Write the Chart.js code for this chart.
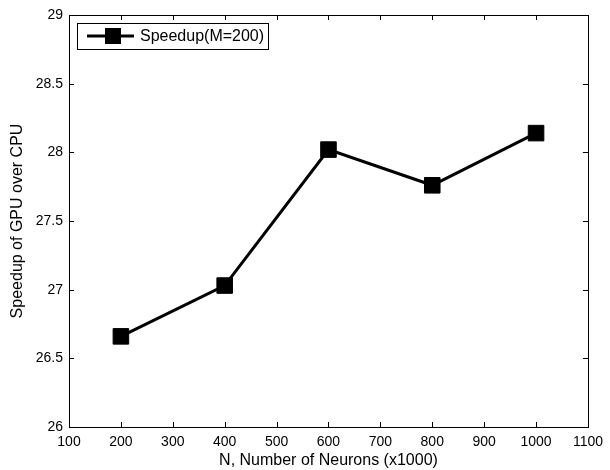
<!DOCTYPE html>
<html>
<head>
<meta charset="utf-8">
<script src="https://cdn.jsdelivr.net/npm/chart.js@4"></script>
<style>
  html, body { margin: 0; padding: 0; background: #fff; }
  #wrap { width: 610px; height: 470px; }
</style>
</head>
<body>
<div id="wrap"><canvas id="chart" width="610" height="470"></canvas></div>
<script>
// values
const neurons = [200, 400, 600, 800, 1000];
const speedup = [26.66, 27.03, 28.02, 27.76, 28.14];
const seriesLabel = 'Speedup(M=200)';
const xTicks = [100, 200, 300, 400, 500, 600, 700, 800, 900, 1000, 1100];
const yTicks = [26, 26.5, 27, 27.5, 28, 28.5, 29];

const FONT = 'Liberation Sans, Arial, Helvetica, sans-serif';

/**
 * MATLAB style box: inward ticks on all four sides, plus top/right border.
 */
const boxTicks = {
  id: 'boxTicks',
  afterDraw(chart) {
    const { ctx, chartArea: a, scales } = chart;
    const len = 5;
    ctx.save();
    ctx.strokeStyle = '#000';
    ctx.lineWidth = 1;
    ctx.beginPath();
    xTicks.forEach(v => {
      const px = Math.round(scales.x.getPixelForValue(v)) + 0.5;
      ctx.moveTo(px, a.bottom); ctx.lineTo(px, a.bottom - len);
      ctx.moveTo(px, a.top); ctx.lineTo(px, a.top + len);
    });
    yTicks.forEach(v => {
      const py = Math.round(scales.y.getPixelForValue(v)) + 0.5;
      ctx.moveTo(a.left, py); ctx.lineTo(a.left + len, py);
      ctx.moveTo(a.right, py); ctx.lineTo(a.right - len, py);
    });
    ctx.stroke();
    ctx.strokeRect(Math.round(a.left) + 0.5, Math.round(a.top) + 0.5,
      Math.round(a.right - a.left), Math.round(a.bottom - a.top));
    ctx.restore();
  }
};

/**
 * Legend box in the upper left corner of the axes.
 */
const boxLegend = {
  id: 'boxLegend',
  afterDraw(chart) {
    const { ctx, chartArea: a } = chart;
    const ds = chart.data.datasets[0];
    const x0 = a.left + 8, y0 = a.top + 8, w = 191, h = 26;
    const cy = y0 + h / 2;
    ctx.save();
    ctx.fillStyle = '#fff';
    ctx.fillRect(x0, y0, w, h);
    ctx.strokeStyle = '#000';
    ctx.lineWidth = 1;
    ctx.strokeRect(x0 + 0.5, y0 + 0.5, w, h);
    ctx.lineWidth = 3;
    ctx.beginPath();
    ctx.moveTo(x0 + 10, cy); ctx.lineTo(x0 + 57, cy);
    ctx.stroke();
    ctx.fillStyle = '#000';
    ctx.fillRect(x0 + 28, cy - 8, 16, 16);
    ctx.font = '16px ' + FONT;
    ctx.textBaseline = 'middle';
    ctx.textAlign = 'left';
    ctx.fillText(ds.label, x0 + 63, cy + 1);
    ctx.restore();
  }
};

new Chart(document.getElementById('chart'), {
  type: 'line',
  data: {
    datasets: [{
      label: seriesLabel,
      data: neurons.map((n, i) => ({ x: n, y: speedup[i] })),
      borderColor: '#000',
      backgroundColor: '#000',
      borderWidth: 3,
      pointStyle: 'rect',
      pointRadius: 11,
      pointBorderWidth: 1,
      pointHoverRadius: 11,
      tension: 0
    }]
  },
  options: {
    responsive: false,
    animation: false,
    layout: { padding: { top: 15, right: 21, left: 0, bottom: 0 } },
    plugins: { legend: { display: false }, tooltip: { enabled: false } },
    scales: {
      x: {
        type: 'linear',
        min: 100,
        max: 1100,
        afterFit(scale) { scale.height = 43; },
        afterBuildTicks(scale) { scale.ticks = xTicks.map(v => ({ value: v })); },
        grid: { display: false, drawTicks: false },
        border: { display: true, color: '#000', width: 1 },
        ticks: {
          color: '#000', padding: 7, maxRotation: 0,
          font: { family: FONT, size: 14 },
          callback: v => String(v)
        },
        title: {
          display: true,
          text: 'N, Number of Neurons (x1000)',
          color: '#000',
          padding: { top: 0, bottom: 0 },
          font: { family: FONT, size: 16 }
        }
      },
      y: {
        min: 26,
        max: 29,
        afterFit(scale) { scale.width = 69; },
        afterBuildTicks(scale) { scale.ticks = yTicks.map(v => ({ value: v })); },
        grid: { display: false, drawTicks: false },
        border: { display: true, color: '#000', width: 1 },
        ticks: {
          color: '#000', padding: 6,
          font: { family: FONT, size: 14 },
          callback: v => String(v)
        },
        title: {
          display: true,
          text: 'Speedup of GPU over CPU',
          color: '#000',
          padding: { top: 8, bottom: 0 },
          font: { family: FONT, size: 16 }
        }
      }
    }
  },
  plugins: [boxTicks, boxLegend]
});
</script>
</body>
</html>
